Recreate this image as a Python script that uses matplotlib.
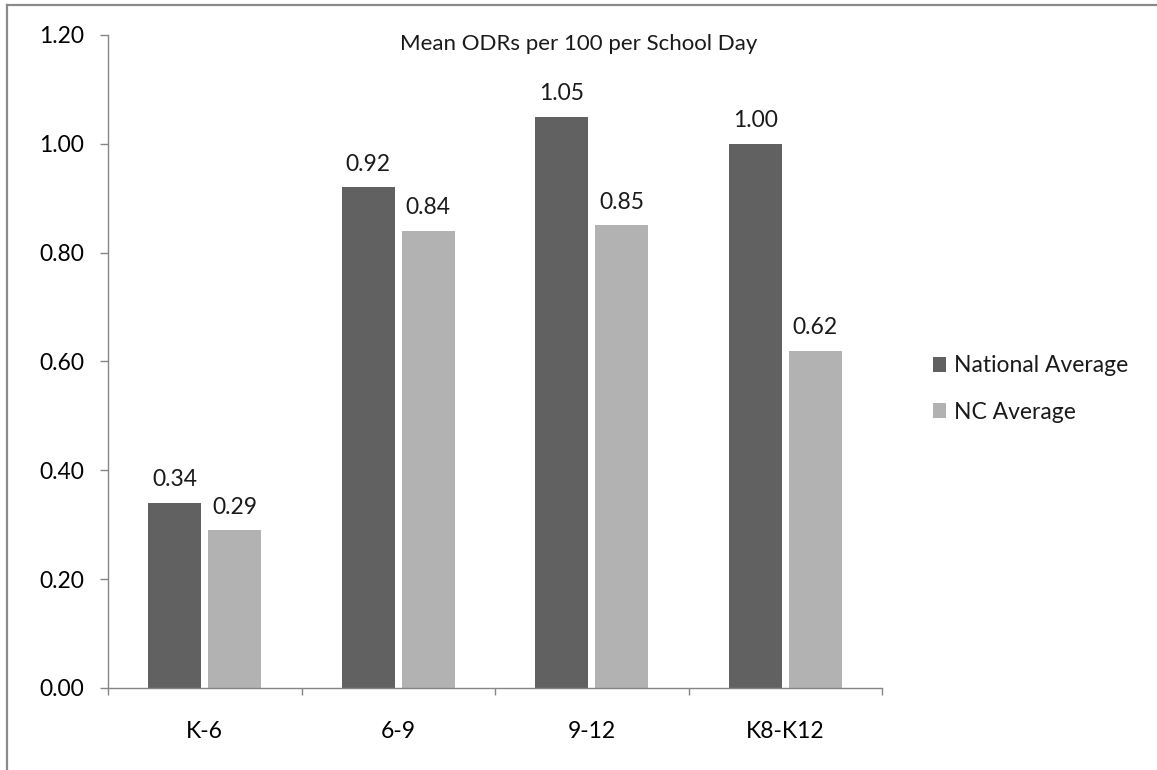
import matplotlib.pyplot as plt
from matplotlib.lines import Line2D
import numpy as np

# School level groups and the two averages per group
levels = ["K-6", "6-9", "9-12", "K8-K12"]
national = [0.34, 0.92, 1.05, 1.00]
nc = [0.29, 0.84, 0.85, 0.62]
series_names = ["National Average", "NC Average"]
yticks = [0.0, 0.2, 0.4, 0.6, 0.8, 1.0, 1.2]

plt.rcParams['font.family'] = ['Lato', 'DejaVu Sans']
plt.rcParams['font.size'] = 16.5
plt.rcParams['text.color'] = '#1a1a1a'
fs = 16.5

W, H = 1157, 770
fig = plt.figure(figsize=(W / 100, H / 100), dpi=100)
ax = fig.add_axes([108 / W, 1 - 688 / H, (882 - 108) / W, (688 - 35) / H])

x = np.arange(len(levels))
bw = 0.274
off = 0.155
b1 = ax.bar(x - off, national, bw, color='#616161', label=series_names[0])
b2 = ax.bar(x + off, nc, bw, color='#b2b2b2', label=series_names[1])
ax.bar_label(b1, fmt='%.2f', padding=9, fontsize=fs)
ax.bar_label(b2, fmt='%.2f', padding=9, fontsize=fs)

ax.set_xlim(-0.5, len(levels) - 0.5)
ax.set_ylim(0, 1.2)
ax.set_yticks(yticks)
ax.set_yticklabels(['%.2f' % v for v in yticks])

# tick marks sit between the groups, labels sit under the group centres
ax.set_xticks(np.arange(len(levels) + 1) - 0.5)
ax.set_xticklabels([])
ax.set_xticks(x, minor=True)
ax.set_xticklabels(levels, minor=True)
ax.tick_params(axis='x', which='major', direction='out', length=5, width=1, color='#868686')
ax.tick_params(axis='x', which='minor', length=0, pad=24, labelsize=fs)
ax.tick_params(axis='y', direction='out', length=6, width=1, color='#868686', pad=11, labelsize=fs)

for s in ['top', 'right']:
    ax.spines[s].set_visible(False)
for s in ['left', 'bottom']:
    ax.spines[s].set_color('#868686')
    ax.spines[s].set_linewidth(1)

fig.text(0.5, 1 - 44 / H, "Mean ODRs per 100 per School Day", ha='center', va='center', fontsize=16)

ax.legend(loc='center left', bbox_to_anchor=(912 / W, 1 - 389 / H), bbox_transform=fig.transFigure,
          frameon=False, handlelength=0.6, handleheight=0.6, handletextpad=0.35,
          labelspacing=1.1, fontsize=fs)

# outer chart border (left and top edges)
fig.add_artist(Line2D([7 / W, 7 / W], [0, 1 - 5 / H], color='#8a8a8a', lw=1.6, transform=fig.transFigure))
fig.add_artist(Line2D([7 / W, 1], [1 - 5 / H, 1 - 5 / H], color='#8a8a8a', lw=1.6, transform=fig.transFigure))

fig.savefig('out.png', dpi=100)
